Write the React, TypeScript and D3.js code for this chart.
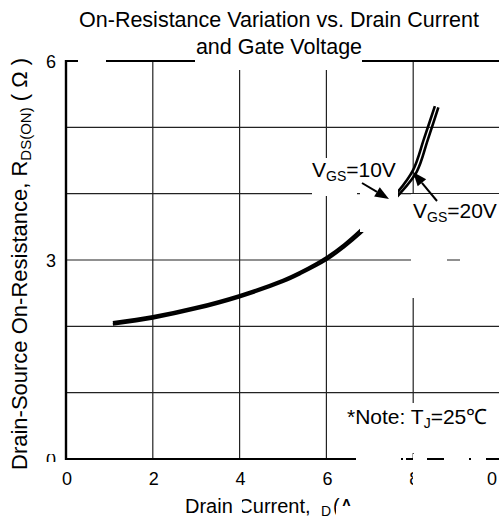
import React from "react";
import * as d3 from "d3";

// ---- data ----
const xTickValues = [0, 2, 4, 6, 8, 10];
const yTickValues = [0, 3, 6];
const yGridValues = [1, 2, 3, 4, 5];
const xGridValues = [2, 4, 6, 8];

// V_GS = 10V (drain current A, on-resistance ohm)
const current10 = [1.08, 2, 3, 4, 5, 5.4, 6, 6.4, 6.8, 7.2, 7.65, 8.0, 8.25, 8.5];
const res10 = [2.06, 2.15, 2.29, 2.47, 2.7, 2.82, 3.04, 3.23, 3.46, 3.72, 4.03, 4.36, 4.83, 5.32];
// V_GS = 20V
const current20 = [1.08, 2, 3, 4, 5, 5.4, 6, 6.4, 6.8, 7.2, 7.65, 8.08, 8.33, 8.58];
const res20 = [2.03, 2.12, 2.26, 2.44, 2.67, 2.79, 3.0, 3.19, 3.41, 3.67, 3.97, 4.33, 4.8, 5.3];

const FONT = "'Liberation Sans', Arial, Helvetica, sans-serif";

function Arrow({ x1, y1, x2, y2 }: { x1: number; y1: number; x2: number; y2: number }) {
  const a = Math.atan2(y2 - y1, x2 - x1);
  const L = 14, Wd = 5.5;
  const bx = x2 - L * Math.cos(a), by = y2 - L * Math.sin(a);
  const px = -Math.sin(a) * Wd, py = Math.cos(a) * Wd;
  return (
    <g>
      <line x1={x1} y1={y1} x2={bx} y2={by} stroke="#000" strokeWidth={2} />
      <path d={`M${x2},${y2}L${bx + px},${by + py}L${bx - px},${by - py}Z`} fill="#000" />
    </g>
  );
}

export default function App() {
  const W = 499, H = 522;
  const x = d3.scaleLinear().domain([0, 10]).range([66, 500]);
  const y = d3.scaleLinear().domain([0, 6]).range([459, 61]);
  const line = d3
    .line<[number, number]>()
    .x((d) => x(d[0]))
    .y((d) => y(d[1]))
    .curve(d3.curveCatmullRom.alpha(0.5));
  const d10 = line(current10.map((c, i) => [c, res10[i]] as [number, number])) || "";
  const d20 = line(current20.map((c, i) => [c, res20[i]] as [number, number])) || "";

  const masks: [number, number, number, number][] = [
    [78, 57, 28, 8], // top border gap
    [195, 57, 167, 13], // title gap
    [312, 158, 45, 38], // VGS=10V label box
    [360, 188, 38, 44], // curve gap
    [411, 194, 36, 104],
    [460, 194, 39, 104],
    [447, 194, 13, 58],
    [356, 454, 45, 9], // bottom axis gaps
    [403, 454, 3, 9],
    [413, 454, 14, 9],
    [444, 454, 25, 9],
    [471, 454, 15, 9],
    [409, 403, 8, 50], // vertical gridline gap
  ];

  const textMasks: [number, number, number, number][] = [
    [413, 466, 10, 24], // right half of "8"
    [474, 466, 13, 24], // the "1" of "10"
    [38, 440, 24, 14], // y "0" top
    [38, 462, 24, 10], // y "0" bottom
    [235, 494, 7, 24], // part of "C"
    [313, 494, 8, 24], // "I"
    [336, 506, 18, 14], // bottom of "A"
    [351, 494, 14, 24], // ")"
  ];

  return (
    <svg
      width={W}
      height={H}
      style={{ position: "absolute", left: 0, top: 0, background: "#fff" }}
      fontFamily={FONT}
    >
      <rect x={0} y={0} width={W} height={H} fill="#fff" />
      {/* grid */}
      {yGridValues.map((v) => (
        <line key={"h" + v} x1={x(0)} x2={x(10)} y1={y(v)} y2={y(v)} stroke="#222" strokeWidth={1.2} />
      ))}
      {xGridValues.map((v) => (
        <line key={"v" + v} x1={x(v)} x2={x(v)} y1={y(0)} y2={y(6)} stroke="#222" strokeWidth={1.2} />
      ))}
      {/* frame */}
      <line x1={x(0)} x2={x(10)} y1={y(6)} y2={y(6)} stroke="#000" strokeWidth={2.2} />
      <line x1={x(0)} x2={x(10)} y1={y(0)} y2={y(0)} stroke="#000" strokeWidth={2.2} />
      <line x1={x(0)} x2={x(0)} y1={y(0) + 1} y2={y(6) - 1} stroke="#000" strokeWidth={2.4} />

      {/* curves */}
      <path d={d10} fill="none" stroke="#000" strokeWidth={2.6} />
      <path d={d20} fill="none" stroke="#000" strokeWidth={2.6} />

      {masks.map((m, i) => (
        <rect key={"m" + i} x={m[0]} y={m[1]} width={m[2]} height={m[3]} fill="#fff" />
      ))}

      {/* tick labels */}
      {xTickValues.map((v) => (
        <text
          key={"xt" + v}
          x={v === 10 ? 497 : x(v) + 1}
          y={485}
          fontSize={18}
          textAnchor={v === 10 ? "end" : "middle"}
        >
          {v}
        </text>
      ))}
      {yTickValues.map((v) => (
        <text key={"yt" + v} x={56} y={y(v) + 7} fontSize={18} textAnchor="end">
          {v}
        </text>
      ))}

      {/* titles */}
      <text x={279} y={27} fontSize={21.5} textAnchor="middle">
        On-Resistance Variation vs. Drain Current
      </text>
      <text x={279} y={54} fontSize={21.5} textAnchor="middle">
        and Gate Voltage
      </text>
      <text x={185} y={513} fontSize={20}>
        Drain Current,
        <tspan x={314}>I</tspan>
        <tspan x={321} fontSize={14} dy={3}>D</tspan>
        <tspan x={333} dy={-3}>(A)</tspan>
      </text>
      <text transform="translate(27,470) rotate(-90)" fontSize={22}>
        Drain-Source On-Resistance, R
        <tspan fontSize={15} dy={4}>DS(ON)</tspan>
        <tspan dy={-4}> ( Ω )</tspan>
      </text>

      {/* annotations */}
      <text x={312} y={177} fontSize={21}>
        V<tspan fontSize={14} dy={4}>GS</tspan>
        <tspan dy={-4}>=10V</tspan>
      </text>
      <Arrow x1={362} y1={183} x2={389} y2={199} />
      <text x={413} y={218} fontSize={21}>
        V<tspan fontSize={14} dy={4}>GS</tspan>
        <tspan dy={-4}>=20V</tspan>
      </text>
      <Arrow x1={437} y1={201} x2={413} y2={172} />
      <text x={347} y={424} fontSize={21}>
        *Note: T<tspan fontSize={14} dy={4}>J</tspan>
        <tspan dy={-4}>=25℃</tspan>
      </text>

      {textMasks.map((m, i) => (
        <rect key={"tm" + i} x={m[0]} y={m[1]} width={m[2]} height={m[3]} fill="#fff" />
      ))}
    </svg>
  );
}
